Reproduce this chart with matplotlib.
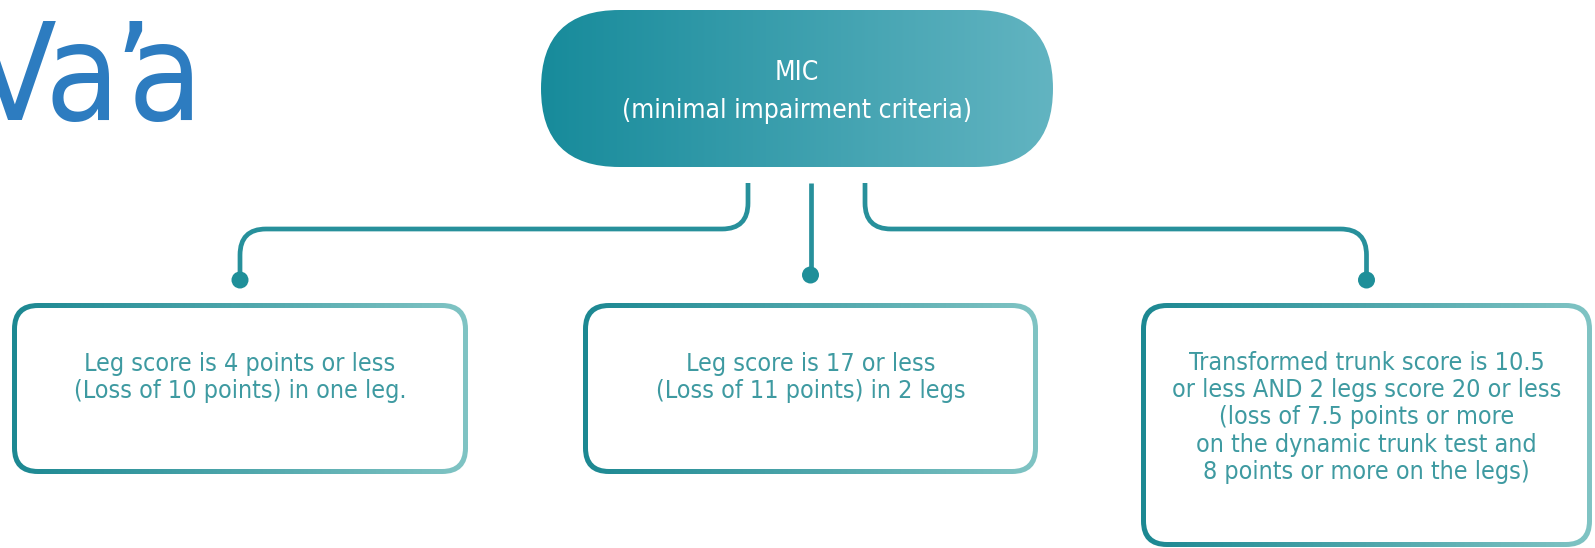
import numpy as np
import matplotlib
matplotlib.use("Agg")
import matplotlib.pyplot as plt
from matplotlib import font_manager
from matplotlib.patches import FancyBboxPatch, Circle, PathPatch
from matplotlib.path import Path
from matplotlib.colors import LinearSegmentedColormap

# texts
title_parts = ["Va", "\u2019", "a"]   # "Va'a", set in pieces to get the tight kerning
top_label = "MIC\n(minimal impairment criteria)"
box_labels = [
    "Leg score is 4 points or less\n(Loss of 10 points) in one leg.",
    "Leg score is 17 or less\n(Loss of 11 points) in 2 legs",
    "Transformed trunk score is 10.5\nor less AND 2 legs score 20 or less\n(loss of 7.5 points or more\n"
    "on the dynamic trunk test and\n8 points or more on the legs)",
]

# layout in pixels (x0, y0, x1, y1), y going down
pill = (541, 10, 1053, 167)
boxes = [(12, 303, 468, 474), (583, 303, 1038, 474), (1141, 303, 1592, 547)]
starts_x = [748, 810, 865]
start_y = 183
bend_y = 229
dot_y = [280, 275, 280]

teal = "#27909b"
text_teal = "#3e9aa1"

# look for a narrow sans font, the original uses a condensed face
narrow = None
for f in font_manager.fontManager.ttflist:
    nm = f.name + " " + f.fname
    if ("Narrow" in nm or "Condensed" in nm or str(f.stretch) in ("condensed", "semi-condensed")) \
            and f.style == "normal" and "Mono" not in nm and "Serif" not in nm \
            and f.weight in (400, "normal", "regular", "book"):
        narrow = f
        break
if narrow is not None:
    body = font_manager.FontProperties(fname=narrow.fname)
    body_size = 18
    title_size = 98
else:
    body = font_manager.FontProperties(family="Roboto")
    body_size = 16.5
    title_size = 90

fig = plt.figure(figsize=(15.95, 5.48), dpi=100)
ax = fig.add_axes([0, 0, 1, 1])
ax.axis("off")

grad = np.linspace(0, 1, 256).reshape(1, -1)


def gradient_box(x0, y0, x1, y1, r, c0, c1, z):
    patch = FancyBboxPatch((x0, y0), x1 - x0, y1 - y0,
                           boxstyle="round,pad=0,rounding_size=%g" % r,
                           fc="none", ec="none", zorder=z)
    ax.add_patch(patch)
    cmap = LinearSegmentedColormap.from_list("g", [c0, c1])
    im = ax.imshow(grad, extent=[x0, x1, y1, y0], cmap=cmap, aspect="auto",
                   zorder=z, interpolation="bilinear")
    im.set_clip_path(patch)


# title
tkw = dict(fontsize=title_size, color="#2d7cc0", va="baseline", fontproperties=body)
ax.text(120, 120, title_parts[0], ha="right", **tkw)
ax.text(133, 120, title_parts[1], ha="center", **tkw)
ax.text(203, 120, title_parts[2], ha="right", **tkw)

# MIC pill
gradient_box(*pill, (pill[3] - pill[1]) / 2, "#178b9b", "#62b4c1", 2)
ax.text((pill[0] + pill[2]) / 2, 92, top_label, ha="center", va="center",
        color="white", fontproperties=body, fontsize=body_size + 1,
        linespacing=1.6, zorder=3)

# lower boxes with gradient border
bw = 5
for (x0, y0, x1, y1), label in zip(boxes, box_labels):
    gradient_box(x0, y0, x1, y1, 26, "#1c8892", "#80c4c4", 2)
    ax.add_patch(FancyBboxPatch((x0 + bw, y0 + bw), x1 - x0 - 2 * bw, y1 - y0 - 2 * bw,
                                boxstyle="round,pad=0,rounding_size=21",
                                fc="white", ec="none", zorder=3))
    n = label.count("\n") + 1
    cy = 364 + (n - 1) * 26.7 / 2
    ax.text((x0 + x1) / 2, cy, label, ha="center", va="center", color=text_teal,
            fontproperties=body, fontsize=body_size, linespacing=1.17, zorder=4)

# connectors
r = 26
for sx, (x0, y0, x1, y1), dy in zip(starts_x, boxes, dot_y):
    ex = (x0 + x1) / 2
    if abs(ex - sx) < 10:
        verts = [(ex, start_y), (ex, dy)]
        codes = [Path.MOVETO, Path.LINETO]
    else:
        s = np.sign(ex - sx)
        verts = [(sx, start_y), (sx, bend_y - r), (sx, bend_y), (sx + s * r, bend_y),
                 (ex - s * r, bend_y), (ex, bend_y), (ex, bend_y + r), (ex, dy)]
        codes = [Path.MOVETO, Path.LINETO, Path.CURVE3, Path.CURVE3,
                 Path.LINETO, Path.CURVE3, Path.CURVE3, Path.LINETO]
    ax.add_patch(PathPatch(Path(verts, codes), fc="none", ec=teal, lw=3.4,
                           capstyle="butt", zorder=2))
    ax.add_patch(Circle((ex, dy), 8.5, fc="#1f8f99", ec="none", zorder=2))

ax.set_xlim(0, 1595)
ax.set_ylim(548, 0)
fig.savefig("out.png", dpi=100, facecolor="white")
